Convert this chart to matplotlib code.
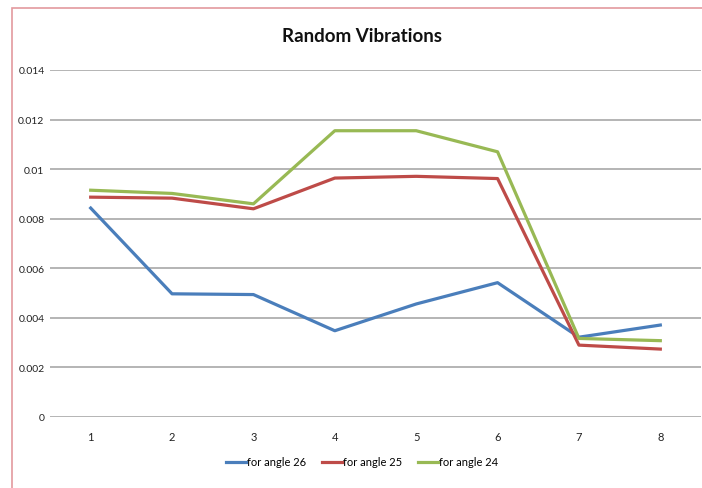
import matplotlib
matplotlib.use("Agg")
import matplotlib.pyplot as plt
from matplotlib.patches import Rectangle

# data
points = [1, 2, 3, 4, 5, 6, 7, 8]
angle_26 = [0.00843, 0.00497, 0.00494, 0.00348, 0.00456, 0.00542, 0.00322, 0.00371]
angle_25 = [0.00887, 0.00883, 0.00840, 0.00964, 0.00971, 0.00962, 0.00290, 0.00274]
angle_24 = [0.00915, 0.00902, 0.00860, 0.01155, 0.01155, 0.01070, 0.00317, 0.00308]
yticks = [0, 0.002, 0.004, 0.006, 0.008, 0.01, 0.012, 0.014]
ytick_labels = ["0", "0.002", "0.004", "0.006", "0.008", "0.01", "0.012", "0.014"]

plt.rcParams["font.family"] = ["Lato", "DejaVu Sans"]

W, H = 702, 489
fig = plt.figure(figsize=(W / 100, H / 100), dpi=100)

# chart border (only left and top visible, rest cropped)
fig.patches.append(Rectangle((12 / W, -0.05), 1.2, 1 - 9 / H + 0.05,
                             transform=fig.transFigure, fill=False,
                             edgecolor="#e39a9e", linewidth=1.2))

ax = fig.add_axes([50 / W, 1 - 418 / H, 651 / W, (418 - 71) / H])

ax.plot(points, angle_26, color="#4a7ebb", lw=2.3, label="for angle 26")
ax.plot(points, angle_25, color="#be4b48", lw=2.3, label="for angle 25")
ax.plot(points, angle_24, color="#98b954", lw=2.3, label="for angle 24")

ax.set_xlim(0.5, 8.5)
ax.set_ylim(0, 0.014)
ax.set_xticks(points)
ax.set_yticks(yticks)
ax.set_yticklabels(ytick_labels)
ax.grid(axis="y", color="#a0a0a0", lw=1.1)
ax.set_axisbelow(True)
for s in ax.spines.values():
    s.set_visible(False)
ax.tick_params(length=0, labelsize=7.5, colors="#222222")
ax.tick_params(axis="y", pad=4)
ax.tick_params(axis="x", pad=10, labelsize=8)

fig.text(362 / W, 1 - 37 / H, "Random Vibrations", ha="center", va="center",
         fontsize=13.5, fontweight="bold", color="#111111")

fig.legend(loc="center", bbox_to_anchor=(362 / W, 1 - 463 / H), ncol=3,
           frameon=False, fontsize=8, handlelength=1.8, handletextpad=0.1,
           columnspacing=1.4)

fig.savefig("out.png", dpi=100)
